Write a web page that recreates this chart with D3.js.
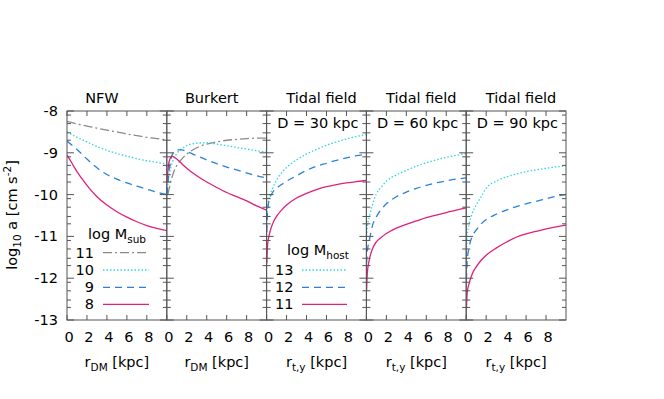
<!DOCTYPE html>
<html>
<head>
<meta charset="utf-8">
<script src="https://cdn.jsdelivr.net/npm/d3@7"></script>
<style>
  body { margin: 0; background: #fff; }
  text { font-family: "DejaVu Sans", sans-serif; fill: #000; }
</style>
</head>
<body>
<svg id="chart" width="664" height="399"></svg>
<script>
// panel texts and ticks
var panelTitles = ["NFW", "Burkert", "Tidal field", "Tidal field", "Tidal field"];
var distLabels = ["", "", "D = 30 kpc", "D = 60 kpc", "D = 90 kpc"];
var xTitles = ["DM", "DM", "t,y", "t,y", "t,y"];
var yTicks = [-8, -9, -10, -11, -12, -13];
var xTicks = [0, 2, 4, 6, 8];
var subLegend = ["11", "10", "9", "8"];
var hostLegend = ["13", "12", "11"];

// NFW profile, log M_sub = 11, 10, 9, 8
var nfwR  = [0, 1, 2, 3, 4, 5, 6, 7, 8, 9, 10];
var nfw11 = [-8.25, -8.31, -8.36, -8.41, -8.46, -8.50, -8.55, -8.59, -8.63, -8.66, -8.69];
var nfw10 = [-8.50, -8.63, -8.74, -8.85, -8.94, -9.02, -9.08, -9.14, -9.19, -9.23, -9.27];
var nfw9  = [-8.72, -8.92, -9.15, -9.36, -9.52, -9.63, -9.72, -9.80, -9.87, -9.94, -10.0];
var nfw8R = [0, 0.5, 1, 1.5, 2, 3, 4, 5, 6, 7, 8, 9, 10];
var nfw8  = [-9.05, -9.25, -9.45, -9.62, -9.78, -10.05, -10.25, -10.41, -10.54, -10.65, -10.74, -10.81, -10.86];

// Burkert profile
var burR11 = [0.1, 0.5, 1, 1.5, 2, 3, 4, 5, 6, 7, 8, 9, 10];
var bur11  = [-10.0, -9.6, -9.3, -9.15, -9.03, -8.88, -8.79, -8.74, -8.70, -8.68, -8.66, -8.65, -8.65];
var burR10 = [0.03, 0.1, 0.3, 0.6, 1, 1.5, 2, 3, 4, 5, 6, 7, 8, 9, 10];
var bur10  = [-9.95, -9.75, -9.45, -9.2, -9.02, -8.9, -8.83, -8.77, -8.76, -8.79, -8.83, -8.87, -8.91, -8.95, -8.98];
var burR9  = [0.02, 0.2, 0.4, 0.7, 1, 1.5, 2, 3, 4, 5, 6, 7, 8, 9, 10];
var bur9   = [-10.0, -9.5, -9.15, -8.98, -8.93, -8.93, -8.97, -9.07, -9.17, -9.26, -9.34, -9.41, -9.48, -9.55, -9.6];
var burR8  = [0.02, 0.2, 0.5, 1, 1.5, 2, 3, 4, 5, 6, 7, 8, 9, 10];
var bur8   = [-9.7, -9.25, -9.08, -9.15, -9.26, -9.37, -9.55, -9.70, -9.83, -9.95, -10.05, -10.15, -10.27, -10.37];

// tidal field, log M_host = 13, 12, 11
var tidR = [0.02, 0.1, 0.3, 0.6, 1, 1.5, 2, 3, 4, 5, 6, 7, 8, 9, 10];
var d30h13 = [-10.6, -10.3, -10.05, -9.85, -9.65, -9.48, -9.35, -9.17, -9.03, -8.92, -8.82, -8.74, -8.67, -8.61, -8.56];
var d30h12 = [-10.9, -10.4, -10.1, -9.95, -9.85, -9.76, -9.68, -9.55, -9.42, -9.32, -9.25, -9.18, -9.12, -9.07, -9.03];
var d30h11 = [-11.65, -11.2, -10.93, -10.7, -10.52, -10.37, -10.25, -10.08, -9.97, -9.88, -9.81, -9.76, -9.72, -9.69, -9.66];
var d60h13 = [-11.0, -10.75, -10.53, -10.25, -9.98, -9.82, -9.68, -9.53, -9.42, -9.32, -9.24, -9.17, -9.11, -9.06, -9.02];
var d60h12 = [-11.65, -11.35, -11.09, -10.75, -10.53, -10.35, -10.22, -10.05, -9.94, -9.85, -9.78, -9.72, -9.67, -9.63, -9.6];
var d60h11 = [-12.3, -11.85, -11.55, -11.3, -11.13, -11.02, -10.93, -10.8, -10.71, -10.63, -10.55, -10.49, -10.43, -10.37, -10.32];
var d90h13 = [-11.35, -11.0, -10.7, -10.45, -10.25, -10.05, -9.85, -9.68, -9.58, -9.51, -9.45, -9.41, -9.37, -9.34, -9.31];
var d90h12 = [-12.05, -11.6, -11.25, -11.0, -10.85, -10.7, -10.6, -10.47, -10.37, -10.29, -10.22, -10.16, -10.1, -10.04, -10.0];
var d90h11 = [-12.75, -12.35, -12.12, -11.9, -11.73, -11.57, -11.45, -11.28, -11.14, -11.02, -10.94, -10.88, -10.82, -10.77, -10.73];

var styles = {
  gray:    { color: "#8a8a8a", dash: "9,3,2,3" },
  cyan:    { color: "#2fd6e0", dash: "1.5,2" },
  blue:    { color: "#2a80dc", dash: "7,5" },
  magenta: { color: "#e0207a", dash: null }
};

var panels = [
  [ {r: nfwR, v: nfw11, s: "gray"}, {r: nfwR, v: nfw10, s: "cyan"}, {r: nfwR, v: nfw9, s: "blue"}, {r: nfw8R, v: nfw8, s: "magenta"} ],
  [ {r: burR11, v: bur11, s: "gray"}, {r: burR10, v: bur10, s: "cyan"}, {r: burR9, v: bur9, s: "blue"}, {r: burR8, v: bur8, s: "magenta"} ],
  [ {r: tidR, v: d30h13, s: "cyan"}, {r: tidR, v: d30h12, s: "blue"}, {r: tidR, v: d30h11, s: "magenta"} ],
  [ {r: tidR, v: d60h13, s: "cyan"}, {r: tidR, v: d60h12, s: "blue"}, {r: tidR, v: d60h11, s: "magenta"} ],
  [ {r: tidR, v: d90h13, s: "cyan"}, {r: tidR, v: d90h12, s: "blue"}, {r: tidR, v: d90h11, s: "magenta"} ]
];

var svg = d3.select("#chart");
var plotLeft = 67, panelW = 99.8, plotTop = 111, plotBottom = 320;
var titleShift = [-15, -5, 5, 5, 5];

var y = d3.scaleLinear().domain([-13, -8]).range([plotBottom, plotTop]);

// minor y ticks at log10 of 2,3,5,8 above each integer
var minorY = [];
d3.range(-13, -8).forEach(function(m) {
  [2, 3, 5, 8].forEach(function(k) { minorY.push(m + Math.log10(k)); });
});

panels.forEach(function(series, i) {
  var x0 = plotLeft + i * panelW;
  var x = d3.scaleLinear().domain([0, 10]).range([x0, x0 + panelW]);
  var g = svg.append("g");

  g.append("clipPath").attr("id", "clip" + i)
    .append("rect").attr("x", x0).attr("y", plotTop).attr("width", panelW).attr("height", plotBottom - plotTop);

  // curves
  var line = d3.line()
    .x(function(d) { return x(d[0]); })
    .y(function(d) { return y(d[1]); })
    .curve(d3.curveMonotoneX);

  series.forEach(function(s) {
    var pts = s.r.map(function(r, j) { return [r, s.v[j]]; });
    g.append("path")
      .attr("d", line(pts))
      .attr("clip-path", "url(#clip" + i + ")")
      .attr("fill", "none")
      .attr("stroke", styles[s.s].color)
      .attr("stroke-width", 1.3)
      .attr("stroke-dasharray", styles[s.s].dash);
  });

  // ticks, inward on all four sides
  var tk = g.append("g").attr("stroke", "#555").attr("stroke-width", 1);
  yTicks.forEach(function(t) {
    tk.append("line").attr("x1", x0).attr("x2", x0 + 7).attr("y1", y(t)).attr("y2", y(t));
    tk.append("line").attr("x1", x0 + panelW).attr("x2", x0 + panelW - 7).attr("y1", y(t)).attr("y2", y(t));
  });
  minorY.forEach(function(t) {
    tk.append("line").attr("x1", x0).attr("x2", x0 + 4).attr("y1", y(t)).attr("y2", y(t));
    tk.append("line").attr("x1", x0 + panelW).attr("x2", x0 + panelW - 4).attr("y1", y(t)).attr("y2", y(t));
  });
  xTicks.forEach(function(t) {
    tk.append("line").attr("x1", x(t)).attr("x2", x(t)).attr("y1", plotBottom).attr("y2", plotBottom - 5);
    tk.append("line").attr("x1", x(t)).attr("x2", x(t)).attr("y1", plotTop).attr("y2", plotTop + 5);
  });

  g.append("rect")
    .attr("x", x0).attr("y", plotTop).attr("width", panelW).attr("height", plotBottom - plotTop)
    .attr("fill", "none").attr("stroke", "#555").attr("stroke-width", 1);

  // x tick labels
  g.selectAll(".xl").data(xTicks).enter().append("text")
    .attr("x", function(d) { return x(d) + 2; })
    .attr("y", 342)
    .attr("text-anchor", "middle")
    .style("font-size", "14.5px")
    .text(function(d) { return d; });

  // x title
  var xt = g.append("text")
    .attr("x", x0 + panelW / 2)
    .attr("y", 367)
    .attr("text-anchor", "middle")
    .style("font-size", "14.5px");
  xt.append("tspan").text("r");
  xt.append("tspan").attr("dy", 4).style("font-size", "10.5px").text(xTitles[i]);
  xt.append("tspan").attr("dy", -4).text(" [kpc]");

  // panel title
  g.append("text")
    .attr("x", x0 + panelW / 2 + titleShift[i])
    .attr("y", 103)
    .attr("text-anchor", "middle")
    .style("font-size", "14.5px")
    .text(panelTitles[i]);

  if (distLabels[i]) {
    g.append("text")
      .attr("x", x0 + panelW - 8)
      .attr("y", 128)
      .attr("text-anchor", "end")
      .style("font-size", "14.5px")
      .text(distLabels[i]);
  }
});

// y tick labels
svg.selectAll(".yl").data(yTicks).enter().append("text")
  .attr("x", 58)
  .attr("y", function(d) { return y(d) + 5; })
  .attr("text-anchor", "end")
  .style("font-size", "14.5px")
  .text(function(d) { return d; });

// y title
var yt = svg.append("text")
  .attr("transform", "translate(17,215) rotate(-90)")
  .attr("text-anchor", "middle")
  .style("font-size", "14.5px");
yt.append("tspan").text("log");
yt.append("tspan").attr("dy", 4).style("font-size", "10.5px").text("10");
yt.append("tspan").attr("dy", -4).text(" a [cm s");
yt.append("tspan").attr("dy", -6).style("font-size", "10.5px").text("-2");
yt.append("tspan").attr("dy", 6).text("]");

// legends
function legend(sub, labels, keys, tx, ty, numX, lx1, lx2, rowY) {
  var t = svg.append("text").attr("x", tx).attr("y", ty).style("font-size", "14.5px");
  t.append("tspan").text("log M");
  t.append("tspan").attr("dy", 4).style("font-size", "10.5px").text(sub);
  labels.forEach(function(lab, j) {
    var yy = rowY[j];
    svg.append("text").attr("x", numX).attr("y", yy + 5)
      .attr("text-anchor", "end").style("font-size", "14.5px").text(lab);
    svg.append("line")
      .attr("x1", lx1).attr("x2", lx2).attr("y1", yy).attr("y2", yy)
      .attr("stroke", styles[keys[j]].color)
      .attr("stroke-width", 1.3)
      .attr("stroke-dasharray", styles[keys[j]].dash);
  });
}
legend("sub", subLegend, ["gray", "cyan", "blue", "magenta"], 88, 239, 94, 103, 149, [252.7, 270, 287.3, 304.3]);
legend("host", hostLegend, ["cyan", "blue", "magenta"], 287, 255, 293.5, 302, 347, [270, 287.3, 304.3]);
</script>
</body>
</html>
